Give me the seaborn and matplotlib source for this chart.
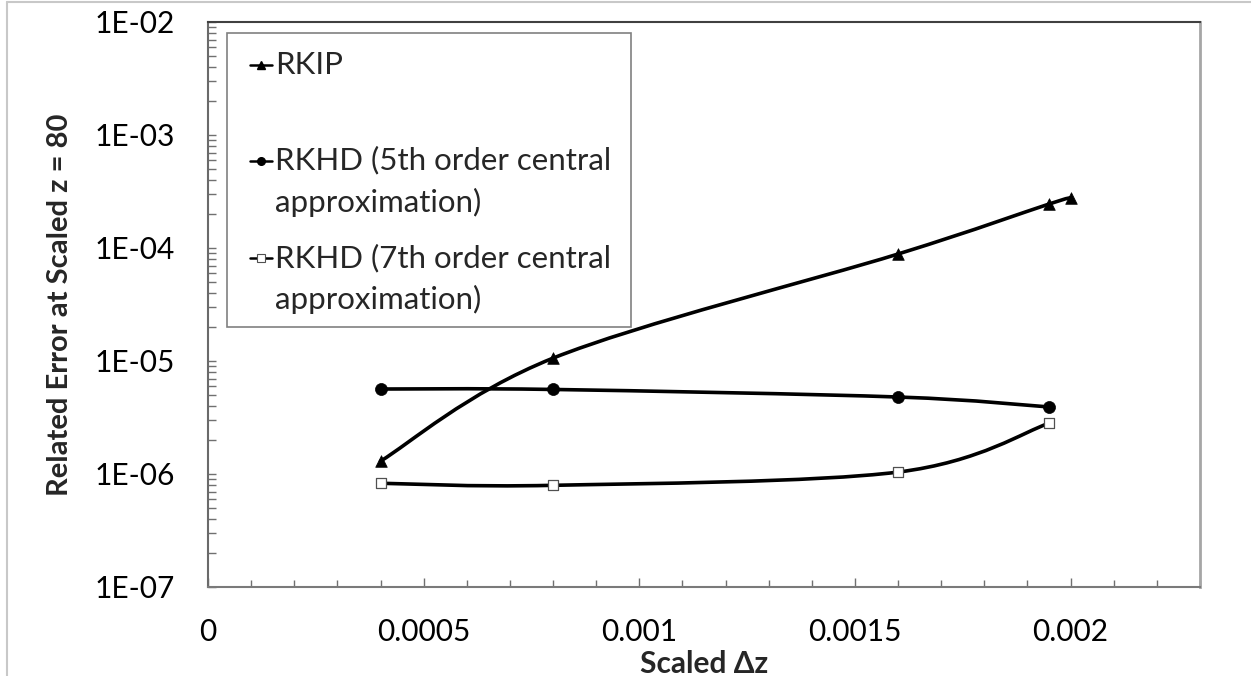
import numpy as np
import matplotlib
matplotlib.use("Agg")
import matplotlib.pyplot as plt
import seaborn as sns
from matplotlib.path import Path
from matplotlib.patches import PathPatch, Rectangle
from matplotlib.lines import Line2D
from matplotlib.legend_handler import HandlerLine2D
from matplotlib.ticker import MultipleLocator, FixedLocator, FixedFormatter, LogLocator, NullFormatter

# ---------------- data ----------------
legend_labels = ["RKIP\n ", "RKHD (5th order central\napproximation)",
                 "RKHD (7th order central\napproximation)"]
rkip_dz = [0.0004, 0.0008, 0.0016, 0.00195, 0.002]
rkip_err = [1.30e-6, 1.06e-5, 8.85e-5, 2.45e-4, 2.77e-4]
rkhd5_dz = [0.0004, 0.0008, 0.0016, 0.00195]
rkhd5_err = [5.65e-6, 5.6e-6, 4.8e-6, 3.92e-6]
rkhd7_dz = [0.0004, 0.0008, 0.0016, 0.00195]
rkhd7_err = [8.28e-7, 7.94e-7, 1.04e-6, 2.81e-6]
x_tick_values = [0, 0.0005, 0.001, 0.0015, 0.002]
x_tick_labels = ["0", "0.0005", "0.001", "0.0015", "0.002"]
y_tick_values = [1e-7, 1e-6, 1e-5, 1e-4, 1e-3, 1e-2]
y_tick_labels = ["1E-07", "1E-06", "1E-05", "1E-04", "1E-03", "1E-02"]
x_label = "Scaled \u0394z"
y_label = "Related Error at Scaled z = 80"

sns.set_theme(style="white")
plt.rcParams['font.family'] = ['Lato', 'DejaVu Sans']

W, H = 1251, 676
fig = plt.figure(figsize=(W / 100, H / 100), dpi=100)
ax = fig.add_axes([208 / W, 1 - 587 / H, (1200 - 208) / W, (587 - 22) / H])
ax.set_yscale("log")
ax.set_xlim(0, 0.0023)
ax.set_ylim(1e-7, 1e-2)


def smooth_patch(xs, ys, **kw):
    """Catmull-Rom style smoothing (like spreadsheet 'smoothed line')."""
    P = np.column_stack([np.asarray(xs, float), np.log10(np.asarray(ys, float))])
    n = len(P)
    verts = [P[0]]
    codes = [Path.MOVETO]
    for i in range(n - 1):
        p0 = P[max(i - 1, 0)]
        p1 = P[i]
        p2 = P[i + 1]
        p3 = P[min(i + 2, n - 1)]
        c1 = p1 + (p2 - p0) / 6.0
        c2 = p2 - (p3 - p1) / 6.0
        verts += [c1, c2, p2]
        codes += [Path.CURVE4] * 3
    V = np.array(verts)
    V[:, 1] = 10 ** V[:, 1]
    return PathPatch(Path(V, codes), fill=False, **kw)


line_kw = dict(edgecolor="black", lw=2.6, capstyle="round", joinstyle="round", zorder=2)
ax.add_patch(smooth_patch(rkip_dz, rkip_err, **line_kw))
ax.add_patch(smooth_patch(rkhd5_dz, rkhd5_err, **line_kw))
ax.add_patch(smooth_patch(rkhd7_dz, rkhd7_err, **line_kw))

sns.scatterplot(x=rkip_dz, y=rkip_err, marker="^", s=70, color="black",
                edgecolor="black", linewidth=0.5, zorder=3, ax=ax, legend=False)
sns.scatterplot(x=rkhd5_dz, y=rkhd5_err, marker="o", s=75, color="black",
                edgecolor="black", linewidth=0.5, zorder=3, ax=ax, legend=False)
sns.scatterplot(x=rkhd7_dz, y=rkhd7_err, marker="s", s=50, color="white",
                edgecolor="#505050", linewidth=0.9, zorder=3, ax=ax, legend=False)

# ticks
ax.xaxis.set_major_locator(FixedLocator(x_tick_values))
ax.xaxis.set_major_formatter(FixedFormatter(x_tick_labels))
ax.xaxis.set_minor_locator(MultipleLocator(0.0001))
ax.yaxis.set_major_locator(FixedLocator(y_tick_values))
ax.yaxis.set_major_formatter(FixedFormatter(y_tick_labels))
ax.yaxis.set_minor_locator(LogLocator(base=10, subs=np.arange(2, 10), numticks=20))
ax.yaxis.set_minor_formatter(NullFormatter())
ax.tick_params(axis="x", which="major", direction="in", length=6.5, width=1, color="#707070",
               labelsize=21.5, pad=22, labelcolor="black", bottom=True)
ax.tick_params(axis="x", which="minor", direction="in", length=5, width=1, color="#707070", bottom=True)
ax.tick_params(axis="y", which="both", direction="in", length=6, width=1, color="#707070",
               labelsize=21.5, pad=24, labelcolor="black", left=True)

for s, c in [("left", "#6a6a6a"), ("bottom", "#7a7a7a"), ("top", "#404040"), ("right", "#a6a6a6")]:
    ax.spines[s].set_visible(True)
    ax.spines[s].set_color(c)
    ax.spines[s].set_linewidth(1.5 if s != "right" else 2)

ax.set_xlabel(x_label, fontsize=21.5, fontweight="bold", labelpad=3)
ax.set_ylabel(y_label, fontsize=21, fontweight="bold", labelpad=15)


class FirstLineHandler(HandlerLine2D):
    """Legend handle aligned with the first line of a two-line label."""

    def __init__(self, dy, **kw):
        super().__init__(**kw)
        self.dy = dy

    def create_artists(self, legend, orig_handle, xdescent, ydescent, width, height,
                       fontsize, trans):
        arts = super().create_artists(legend, orig_handle, xdescent, ydescent, width,
                                      height, fontsize, trans)
        for a in arts:
            a.set_ydata(np.asarray(a.get_ydata(), float) + self.dy)
        return arts


# legend
handles = [
    Line2D([], [], color="black", lw=1.8, marker="^", markersize=5.5),
    Line2D([], [], color="black", lw=1.8, marker="o", markersize=5.5),
    Line2D([], [], color="black", lw=1.8, marker="s", markersize=5.5,
           markerfacecolor="white", markeredgecolor="#505050", markeredgewidth=0.8),
]
hmap = {h: FirstLineHandler(dy=15.2) for h in handles}
leg = ax.legend(handles, legend_labels, loc="upper left",
                bbox_to_anchor=(250 / W, 1 - 51 / H), bbox_transform=fig.transFigure,
                frameon=False, fontsize=22.5, handlelength=0.7, handletextpad=0.1,
                labelspacing=0.86, borderpad=0, borderaxespad=0, handler_map=hmap,
                markerscale=1)
for t in leg.get_texts():
    t.set_linespacing(1.53)

fig.add_artist(Rectangle((227 / W, 1 - 327 / H), (631 - 227) / W, (327 - 33) / H,
                         transform=fig.transFigure, facecolor="none",
                         edgecolor="#808080", lw=1.2, zorder=1))

# chart-area border (top and left)
fig.add_artist(Line2D([7 / W, 1], [1 - 1.5 / H, 1 - 1.5 / H], transform=fig.transFigure,
                      color="#c8c8c8", lw=1.5))
fig.add_artist(Line2D([7 / W, 7 / W], [0, 1 - 1.5 / H], transform=fig.transFigure,
                      color="#c8c8c8", lw=1.5))

fig.savefig("out.png", dpi=100)
